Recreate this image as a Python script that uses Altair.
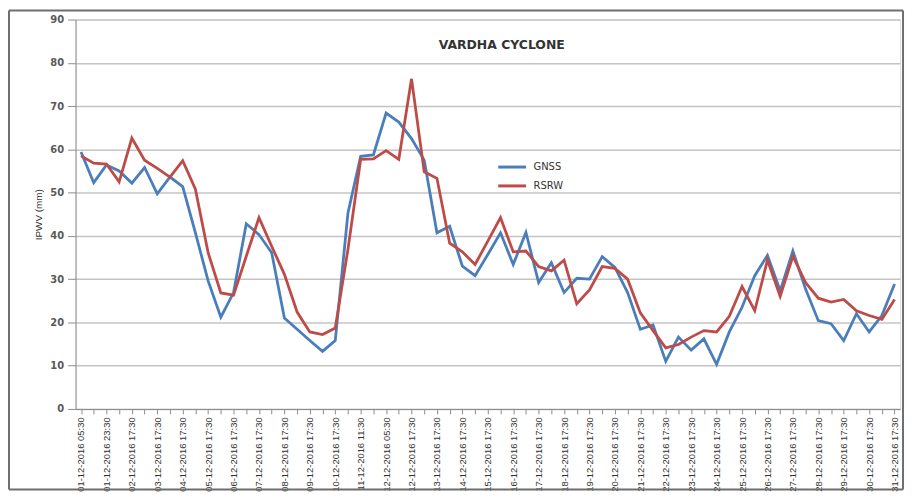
import json
import altair as alt
import pandas as pd

CATEGORIES = [
    "01-12-2016 05:30", "01-12-2016 11:30", "01-12-2016 23:30", "02-12-2016 05:30",
    "02-12-2016 17:30", "03-12-2016 05:30", "03-12-2016 17:30", "04-12-2016 05:30",
    "04-12-2016 17:30", "05-12-2016 05:30", "05-12-2016 17:30", "06-12-2016 05:30",
    "06-12-2016 17:30", "07-12-2016 05:30", "07-12-2016 17:30", "08-12-2016 05:30",
    "08-12-2016 17:30", "09-12-2016 05:30", "09-12-2016 17:30", "10-12-2016 05:30",
    "10-12-2016 17:30", "11-12-2016 05:30", "11-12-2016 11:30", "11-12-2016 17:30",
    "12-12-2016 05:30", "12-12-2016 11:30", "12-12-2016 17:30", "13-12-2016 05:30",
    "13-12-2016 17:30", "14-12-2016 05:30", "14-12-2016 17:30", "15-12-2016 05:30",
    "15-12-2016 17:30", "16-12-2016 05:30", "16-12-2016 17:30", "17-12-2016 05:30",
    "17-12-2016 17:30", "18-12-2016 05:30", "18-12-2016 17:30", "19-12-2016 05:30",
    "19-12-2016 17:30", "20-12-2016 05:30", "20-12-2016 17:30", "21-12-2016 05:30",
    "21-12-2016 17:30", "22-12-2016 05:30", "22-12-2016 17:30", "23-12-2016 05:30",
    "23-12-2016 17:30", "24-12-2016 05:30", "24-12-2016 17:30", "25-12-2016 05:30",
    "25-12-2016 17:30", "26-12-2016 05:30", "26-12-2016 17:30", "27-12-2016 05:30",
    "27-12-2016 17:30", "28-12-2016 05:30", "28-12-2016 17:30", "29-12-2016 05:30",
    "29-12-2016 17:30", "30-12-2016 05:30", "30-12-2016 17:30", "31-12-2016 05:30",
    "31-12-2016 17:30",
]

TICK_LABELS = [
    "01-12-2016 05:30", "01-12-2016 23:30", "02-12-2016 17:30", "03-12-2016 17:30",
    "04-12-2016 17:30", "05-12-2016 17:30", "06-12-2016 17:30", "07-12-2016 17:30",
    "08-12-2016 17:30", "09-12-2016 17:30", "10-12-2016 17:30", "11-12-2016 11:30",
    "12-12-2016 05:30", "12-12-2016 17:30", "13-12-2016 17:30", "14-12-2016 17:30",
    "15-12-2016 17:30", "16-12-2016 17:30", "17-12-2016 17:30", "18-12-2016 17:30",
    "19-12-2016 17:30", "20-12-2016 17:30", "21-12-2016 17:30", "22-12-2016 17:30",
    "23-12-2016 17:30", "24-12-2016 17:30", "25-12-2016 17:30", "26-12-2016 17:30",
    "27-12-2016 17:30", "28-12-2016 17:30", "29-12-2016 17:30", "30-12-2016 17:30",
    "31-12-2016 17:30",
]

GNSS = [
    59.4, 52.3, 56.4, 55.0, 52.2, 55.8, 49.7, 53.6, 51.4, 40.7,
    29.6, 21.2, 26.9, 42.8, 40.3, 36.1, 21.0, 18.4, 15.8, 13.3,
    15.8, 45.3, 58.4, 58.7, 68.4, 66.3, 62.5, 57.5, 40.7, 42.2,
    33.0, 30.8, 35.7, 40.7, 33.4, 40.8, 29.2, 33.8, 26.9, 30.2,
    30.0, 35.2, 32.7, 26.9, 18.4, 19.4, 11.0, 16.6, 13.6, 16.2,
    10.3, 17.8, 23.5, 30.8, 35.5, 27.3, 36.5, 27.7, 20.4, 19.7,
    15.8, 22.0, 17.8, 21.6, 28.9,
]

RSRW = [
    58.5, 56.8, 56.6, 52.5, 62.6, 57.5, 55.6, 53.6, 57.4, 50.8,
    36.1, 26.8, 26.3, 35.3, 44.2, 37.6, 31.1, 22.4, 17.8, 17.2,
    18.7, 36.9, 57.7, 57.8, 59.7, 57.7, 76.3, 54.8, 53.3, 38.3,
    36.3, 33.4, 38.8, 44.2, 36.3, 36.5, 32.9, 31.9, 34.4, 24.3,
    27.5, 32.9, 32.5, 30.0, 22.2, 18.1, 14.1, 14.9, 16.6, 18.1,
    17.8, 21.4, 28.3, 22.7, 34.4, 26.0, 35.3, 29.2, 25.6, 24.7,
    25.3, 22.7, 21.6, 20.7, 25.3,
]

SERIES = ["GNSS", "RSRW"]
COLORS = ["#4a7ebb", "#be4b48"]

rows = []
for name, vals in zip(SERIES, [GNSS, RSRW]):
    for t, v in zip(CATEGORIES, vals):
        rows.append({"time": t, "series": name, "value": v})
df = pd.DataFrame(rows)

W, H = 830, 392

label_expr = "indexof(" + json.dumps(TICK_LABELS) + ", datum.value) >= 0 ? datum.value : ''"

lines = alt.Chart(df).mark_line(strokeWidth=2.8).encode(
    x=alt.X(
        "time:O",
        scale=alt.Scale(type="point", domain=CATEGORIES, padding=0.43),
        axis=alt.Axis(
            title=None, labelAngle=-90, labelExpr=label_expr,
            labelFont="Liberation Sans", labelFontSize=9.5, labelColor="#333333",
            tickColor="#8c8c8c", tickSize=5, domainColor="#8c8c8c", grid=False,
            labelPadding=3,
        ),
    ),
    y=alt.Y(
        "value:Q",
        scale=alt.Scale(domain=[0, 90]),
        axis=alt.Axis(
            values=list(range(0, 91, 10)), title="IPWV (mm)",
            titleFont="Liberation Sans", titleFontSize=10, titleFontWeight="normal",
            titleColor="#333333", titlePadding=6,
            labelFont="DejaVu Sans", labelFontSize=10, labelFontWeight="bold",
            labelColor="#595959", labelPadding=4,
            tickColor="#8c8c8c", tickSize=8, domainColor="#8c8c8c",
            gridColor="#c4c4c4", gridWidth=1.5,
        ),
    ),
    color=alt.Color(
        "series:N",
        scale=alt.Scale(domain=SERIES, range=COLORS),
        legend=alt.Legend(
            orient="none", legendX=424, legendY=142, title=None,
            symbolType="M-1,0H4.6", symbolSize=100, symbolStrokeWidth=3,
            labelFont="DejaVu Sans", labelFontSize=10, labelColor="#333333",
            labelOffset=24, rowPadding=6,
        ),
    ),
)

frame_src = pd.DataFrame({"a": [0]})
frame_style = dict(stroke="#6e6e6e", strokeWidth=2)
frame_top = alt.Chart(frame_src).mark_rule(**frame_style).encode(
    x=alt.value(-67), x2=alt.value(833), y=alt.value(-9))
frame_bottom = alt.Chart(frame_src).mark_rule(**frame_style).encode(
    x=alt.value(-67), x2=alt.value(833), y=alt.value(473))
frame_left = alt.Chart(frame_src).mark_rule(**frame_style).encode(
    x=alt.value(-67), y=alt.value(-9), y2=alt.value(473))
frame_right = alt.Chart(frame_src).mark_rule(**frame_style).encode(
    x=alt.value(833), y=alt.value(-9), y2=alt.value(473))

chart = alt.layer(lines, frame_top, frame_bottom, frame_left, frame_right).properties(
    width=W, height=H,
    title=alt.TitleParams(
        "VARDHA CYCLONE", font="DejaVu Sans", fontSize=12.5, fontWeight="bold",
        color="#333333", anchor="middle", dx=14, dy=46,
    ),
    autosize=alt.AutoSizeParams(type="none"),
    padding={"left": 68, "top": 10, "right": 6, "bottom": 83},
).configure_view(stroke="#8c8c8c", strokeWidth=1).configure(background="white")

chart.save("out.html", embed_options={"renderer": "svg", "actions": False})
